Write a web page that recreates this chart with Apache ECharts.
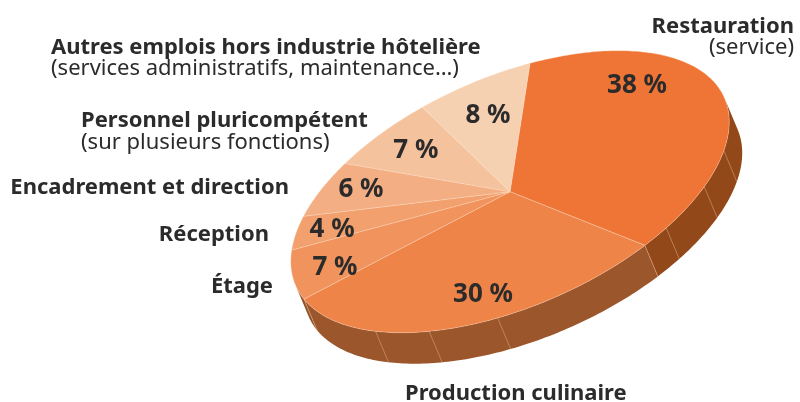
<!DOCTYPE html>
<html>
<head>
<meta charset="utf-8">
<script src="https://cdn.jsdelivr.net/npm/echarts@6/dist/echarts.min.js"></script>
<style>
  html, body { margin: 0; background: #fff; }
  #main { width: 800px; height: 402px; }
</style>
</head>
<body>
<div id="main"></div>
<script>
// data
const categories = [
  "Restauration",
  "Production culinaire",
  "Étage",
  "Réception",
  "Encadrement et direction",
  "Personnel pluricompétent",
  "Autres emplois hors industrie hôtelière",
];
const subtitles = ["(service)", "", "", "", "", "(sur plusieurs fonctions)", "(services administratifs, maintenance…)"];
const values = [38, 30, 7, 4, 6, 7, 8];

// layout of the tilted disc (affine image of a unit circle)
const CX = 510, CY = 191.7;
const AX = [20, -128.4];   // where angle 0 lands
const AY = [218.3, -58.3]; // where angle 90 lands
const DEPTH = [13, 31];
const topColors = ["#ee7536", "#ef8449", "#f0935d", "#f2a06e", "#f3ae84", "#f4c29c", "#f6d1b1"];
const sideColors = ["#934819", "#9b562b", "#96522a", "#96522a", "#96522a", "#96522a", "#96522a"];
const facetAngles = [97.5, 112.4, 129.3, 178, 196.4, 212.6];
const labelShift = [-27.5, -6.7, -2.8, -0.3, 1.6, 0.6, 1.0];
const labelRadius = [0.804, 0.758, 0.811, 0.83, 0.802, 0.738, 0.706];
// [x, baseline, align]
const nameLayout = [
  [794, 31.7, "right"],
  [405, 399, "left"],
  [273, 292, "right"],
  [269, 240, "right"],
  [289, 193, "right"],
  [81, 126, "left"],
  [51, 52.5, "left"],
];
const LINE_GAP = 21.5;
const BASE_TO_MID = 5;

const total = values.reduce((a, b) => a + b, 0);
const starts = [];
values.reduce((acc, v) => { starts.push(acc / total * 360); return acc + v; }, 0);

function pt(deg, r = 1) {
  const a = deg * Math.PI / 180;
  const c = Math.cos(a), s = Math.sin(a);
  return [CX + r * (AX[0] * c + AY[0] * s), CY + r * (AX[1] * c + AY[1] * s)];
}
function shift(p) { return [p[0] + DEPTH[0], p[1] + DEPTH[1]]; }
function arc(a, b) {
  const out = [];
  const n = Math.max(2, Math.ceil(b - a));
  for (let k = 0; k <= n; k++) out.push(pt(a + (b - a) * k / n));
  return out;
}

// visible half of the rim: tangent parallel to the depth vector
let v0 = Math.atan((AY[0] * DEPTH[1] - AY[1] * DEPTH[0]) / (AX[0] * DEPTH[1] - AX[1] * DEPTH[0])) * 180 / Math.PI;
if (v0 < 0) v0 += 180;
{
  const m = pt(v0 + 90);
  if ((m[0] - CX) * DEPTH[0] + (m[1] - CY) * DEPTH[1] < 0) v0 += 180;
}
const v1 = v0 + 180;

const sliceData = values.map((v, i) => ({ name: categories[i], value: v }));
const pctFont = 'bold 26px "Noto Sans"';
const nameFont = 'bold 22px "Noto Sans"';
const subFont = '22px "Noto Sans"';
const ink = "#2b2b2b";

function renderSide(params) {
  const i = params.dataIndex;
  const a = starts[i], b = a + values[i] / total * 360;
  const lo = Math.max(a, v0), hi = Math.min(b, v1);
  const children = [];
  if (lo < hi) {
    const topArc = arc(lo, hi);
    const bottomArc = topArc.map(shift).reverse();
    children.push({
      type: "polygon",
      shape: { points: topArc.concat(bottomArc) },
      style: { fill: sideColors[i] },
    });
    const lines = facetAngles.filter((c) => c > lo && c < hi);
    if (a >= v0 && a <= v1) lines.push(a);
    lines.forEach((c) => {
      const p = pt(c), q = shift(p);
      children.push({
        type: "line",
        shape: { x1: p[0], y1: p[1], x2: q[0], y2: q[1] },
        style: { stroke: "rgba(235,190,150,0.75)", lineWidth: 0.6 },
      });
    });
  }
  return { type: "group", children };
}

function renderTop(params) {
  const i = params.dataIndex;
  const a = starts[i], b = a + values[i] / total * 360;
  const children = [];
  children.push({
    type: "polygon",
    shape: { points: [[CX, CY]].concat(arc(a, b)) },
    style: { fill: topColors[i], stroke: "rgba(255,225,200,0.55)", lineWidth: 0.6 },
  });
  const lp = pt((a + b) / 2 + labelShift[i], labelRadius[i]);
  children.push({
    type: "text",
    x: lp[0], y: lp[1] + 2.5,
    style: { text: values[i] + " %", font: pctFont, fill: ink, align: "center", verticalAlign: "middle" },
  });
  const [nx, ny, al] = nameLayout[i];
  children.push({
    type: "text",
    x: nx, y: ny - BASE_TO_MID,
    style: { text: categories[i], font: nameFont, fill: ink, align: al, verticalAlign: "middle" },
  });
  if (subtitles[i]) {
    children.push({
      type: "text",
      x: nx, y: ny + LINE_GAP - BASE_TO_MID,
      style: { text: subtitles[i], font: subFont, fill: ink, align: al, verticalAlign: "middle" },
    });
  }
  return { type: "group", children };
}

const chart = echarts.init(document.getElementById("main"));
chart.setOption({
  animation: false,
  series: [
    { type: "custom", coordinateSystem: "none", silent: true, z: 1, data: sliceData, renderItem: renderSide },
    { type: "custom", coordinateSystem: "none", silent: true, z: 2, data: sliceData, renderItem: renderTop },
  ],
});
</script>
</body>
</html>
